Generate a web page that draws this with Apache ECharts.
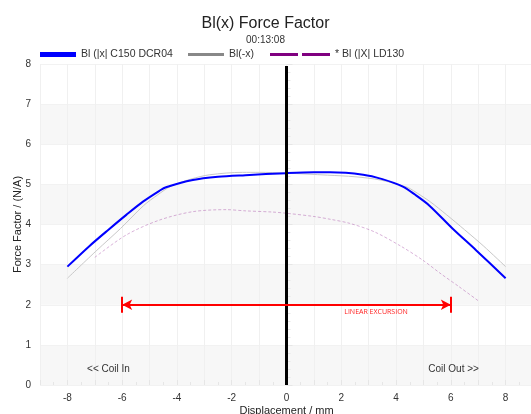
<!DOCTYPE html>
<html><head><meta charset="utf-8">
<script src="https://cdn.jsdelivr.net/npm/echarts@6/dist/echarts.min.js"></script>
<style>html,body{margin:0;padding:0;background:#fff}#c{width:531px;height:414px}</style>
</head><body><div id="c"></div>
<script>
// Bl(|x|) C150 DCR04
const blueX = [-8, -7.2, -6.5, -5.85, -5.24, -4.64, -4.4, -3.42, -2.5, -1.5, 0, 1, 1.6, 2.8, 3.5, 4.23, 4.7, 5.22, 6.06, 6.92, 8];
const blueY = [2.95, 3.46, 3.87, 4.24, 4.57, 4.84, 4.93, 5.11, 5.19, 5.23, 5.28, 5.3, 5.3, 5.24, 5.13, 4.95, 4.74, 4.47, 3.9, 3.36, 2.66];
// Bl(-x)
const greyX = [-8, -6.92, -6.06, -5.22, -4.7, -4.23, -3.5, -2.8, -1.6, -1, 0, 1.5, 2.5, 3.42, 4.4, 4.64, 5.24, 5.85, 6.5, 7.2, 8];
const greyY = [2.66, 3.36, 3.9, 4.47, 4.74, 4.95, 5.13, 5.24, 5.3, 5.3, 5.28, 5.23, 5.19, 5.11, 4.93, 4.84, 4.57, 4.24, 3.87, 3.46, 2.95];
// * Bl (|X| LD130
const purpX = [-7, -5.85, -4.64, -3.42, -2.2, -1.5, -0.5, 0, 1, 1.6, 2.3, 3.2, 4.2, 5, 5.6, 6.3, 7];
const purpY = [3.18, 3.74, 4.11, 4.32, 4.37, 4.34, 4.31, 4.28, 4.2, 4.13, 4.03, 3.82, 3.45, 3.1, 2.79, 2.45, 2.1];
const xTicks = [-8, -6, -4, -2, 0, 2, 4, 6, 8];
const yTicks = [0, 1, 2, 3, 4, 5, 6, 7, 8];
const excursion = [-6, 6];
const excursionLevel = 2;

const zip = (xs, ys) => xs.map((x, i) => [x, ys[i]]);
const FONT = 'Liberation Sans, Arial';
const legendText = {fontSize: 10.5, color: '#333', fontFamily: FONT};
const chart = echarts.init(document.getElementById('c'));
chart.setOption({
  animation: false,
  backgroundColor: '#fff',
  title: [
    {text: 'Bl(x) Force Factor', left: 'center', top: 11, textStyle: {fontSize: 16, fontWeight: 'normal', color: '#222', fontFamily: FONT}},
    {text: '00:13:08', left: 'center', top: 30, textStyle: {fontSize: 10, fontWeight: 'normal', color: '#333', fontFamily: FONT}}
  ],
  legend: [
    {top: 49, left: 40, padding: 0, itemWidth: 36, itemHeight: 5, symbolKeepAspect: false, textStyle: legendText,
      data: [{name: 'Bl (|x| C150 DCR04', icon: 'rect', itemStyle: {color: '#0000ff'}}]},
    {top: 49, left: 188, padding: 0, itemWidth: 36, itemHeight: 3, symbolKeepAspect: false, textStyle: legendText,
      data: [{name: 'Bl(-x)', icon: 'rect', itemStyle: {color: '#888888'}}]},
    {top: 49, left: 270, padding: 0, itemWidth: 60, itemHeight: 3, symbolKeepAspect: false, textStyle: legendText,
      data: [{name: '* Bl (|X| LD130', icon: 'path://M0,0H28V3H0Z M32,0H60V3H32Z', itemStyle: {color: '#800080'}}]}
  ],
  grid: {left: 40, right: -2, top: 64, bottom: 29, containLabel: false, outerBoundsMode: 'none'},
  xAxis: {
    type: 'value', min: -9, max: 9, interval: 1,
    name: 'Displacement / mm', nameLocation: 'middle', nameGap: 20, nameMoveOverlap: false,
    nameTextStyle: {fontSize: 11, color: '#222', fontFamily: FONT},
    axisLine: {show: false},
    axisTick: {show: true, inside: true, length: 5, lineStyle: {color: '#e6e6e6'}},
    minorTick: {show: true, splitNumber: 2, length: 3, lineStyle: {color: '#e6e6e6'}},
    axisLabel: {fontSize: 10, color: '#333', margin: 8, fontFamily: FONT, formatter: v => xTicks.includes(v) ? String(v) : ''},
    splitLine: {show: true, lineStyle: {color: '#f0f0f0'}, interval: (i, v) => xTicks.includes(v)}
  },
  yAxis: {
    type: 'value', min: 0, max: 8, interval: 1,
    name: 'Force Factor / (N/A)', nameLocation: 'middle', nameGap: 17, nameMoveOverlap: false,
    nameTextStyle: {fontSize: 11, color: '#222', fontFamily: FONT},
    axisLine: {show: false},
    axisTick: {show: true, inside: true, length: 6, lineStyle: {color: '#e6e6e6'}},
    minorTick: {show: true, splitNumber: 5, length: 4, lineStyle: {color: '#e6e6e6'}},
    axisLabel: {fontSize: 10, color: '#333', margin: 9, fontFamily: FONT, formatter: v => yTicks.includes(v) ? String(v) : ''},
    splitLine: {show: true, lineStyle: {color: '#f2f2f2'}},
    splitArea: {show: true, areaStyle: {color: ['#f7f7f7', '#ffffff']}}
  },
  series: [
    {name: 'Bl(-x)', type: 'line', data: zip(greyX, greyY), smooth: 0.3, showSymbol: false,
      lineStyle: {color: '#c8c8c8', width: 1}, itemStyle: {color: '#888'}, z: 2},
    {name: '* Bl (|X| LD130', type: 'line', data: zip(purpX, purpY), smooth: 0.3, showSymbol: false,
      lineStyle: {color: 'rgba(128,0,128,0.3)', width: 1, type: [3, 2]}, itemStyle: {color: '#800080'}, z: 2},
    {name: 'Bl (|x| C150 DCR04', type: 'line', data: zip(blueX, blueY), smooth: 0.3, showSymbol: false,
      lineStyle: {color: '#0000ff', width: 2}, itemStyle: {color: '#0000ff'}, z: 4},
    {name: 'annot', type: 'line', data: [], silent: true,
      markLine: {silent: true, symbol: ['none', 'none'], animation: false, label: {show: false},
        data: [
          [{coord: [0, 0], lineStyle: {color: '#000', width: 3, type: 'solid'}}, {coord: [0, 7.95]}],
          [{coord: [excursion[0], excursionLevel], symbol: 'arrow', symbolSize: [8, 10], lineStyle: {color: '#ff0000', width: 2, type: 'solid'}},
           {coord: [excursion[1], excursionLevel], symbol: 'arrow', symbolSize: [8, 10]}],
          [{coord: [excursion[0], excursionLevel - 0.2], lineStyle: {color: '#ff0000', width: 2, type: 'solid'}}, {coord: [excursion[0], excursionLevel + 0.2]}],
          [{coord: [excursion[1], excursionLevel - 0.2], lineStyle: {color: '#ff0000', width: 2, type: 'solid'}}, {coord: [excursion[1], excursionLevel + 0.2]}]
        ]},
      markPoint: {silent: true, symbol: 'rect', symbolSize: 1, itemStyle: {color: 'transparent'},
        data: [
          {coord: [3.27, 1.82], label: {show: true, formatter: 'LINEAR EXCURSION', color: '#ff2020', fontSize: 7, fontFamily: 'Open Sans'}},
          {coord: [-6.5, 0.4], label: {show: true, formatter: '<< Coil In', color: '#333', fontSize: 10, fontFamily: FONT}},
          {coord: [6.1, 0.4], label: {show: true, formatter: 'Coil Out >>', color: '#333', fontSize: 10, fontFamily: FONT}}
        ]}
    }
  ]
});
</script></body></html>
